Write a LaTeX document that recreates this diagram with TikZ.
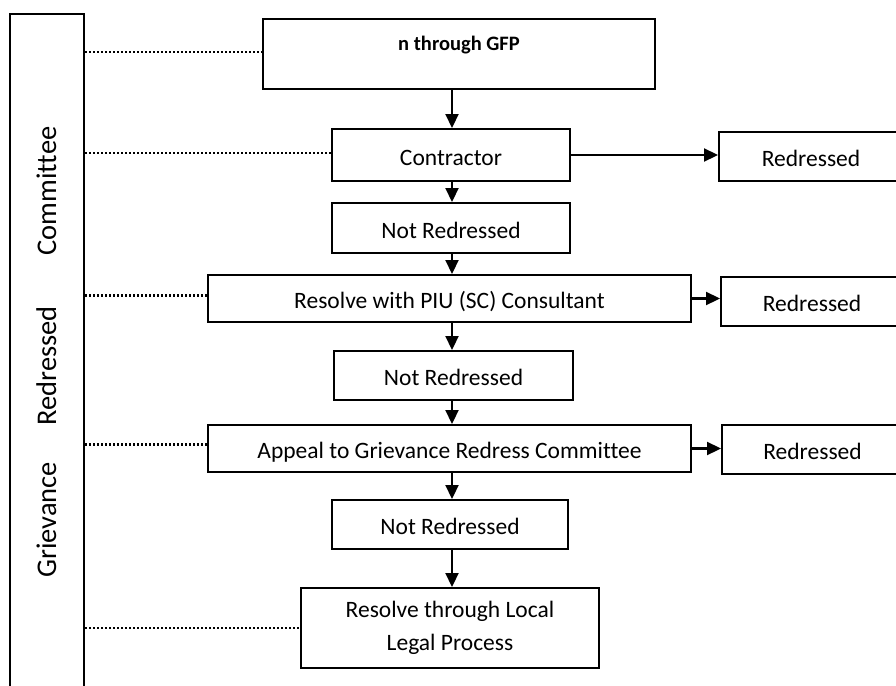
\documentclass[tikz,border=0pt]{standalone}
\usepackage{fontspec}
\setmainfont{Carlito}[Ligatures=NoCommon]
\usetikzlibrary{arrows.meta,calc}
\begin{document}
\begin{tikzpicture}[x=1pt,y=-1pt,
  box/.style={draw, line width=2pt, inner sep=0pt, align=center,
    font=\fontsize{23.5}{33}\selectfont, text height=20pt, text depth=0pt},
  arr/.style={line width=2.2pt, -{Triangle[length=14pt,width=13pt]}},
  dot/.style={line width=2.4pt, dash pattern=on 2.2pt off 1.8pt},
  panel/.style={line width=2pt},
  side/.style={rotate=90, anchor=base, inner sep=0pt, font=\fontsize{28.5}{34}\selectfont}]
\useasboundingbox (0,0) rectangle (896,685);
\clip (0,0) rectangle (896,685);

% left panel
\draw[panel] (10,686) -- (10,14) -- (84,14) -- (84,686);
\coordinate (pl) at (85,0);
\coordinate (ax) at (452,0);
\node[side] (w1) at (56,520) {Grievance};
\node[side] (w2) at (56,366) {Redressed};
\node[side] (w3) at (56,191) {Committee};

% boxes
\node[box, minimum width=392pt, minimum height=70pt, font=\fontsize{20.5}{25}\selectfont\bfseries, text height=14pt, text depth=20pt] (b1) at (459,54) {n through GFP};
\node[box, minimum width=238pt, minimum height=52pt] (b2) at (451,155) {Contractor};
\node[box, minimum width=238pt, minimum height=50pt] (b3) at (451,228) {Not Redressed};
\node[box, minimum width=483pt, minimum height=47pt] (b4) at (449.5,298.5) {Resolve with PIU (SC) Consultant};
\node[box, minimum width=239pt, minimum height=49pt] (b5) at (453.5,375.5) {Not Redressed};
\node[box, minimum width=483pt, minimum height=47pt] (b6) at (449.5,448.5) {Appeal to Grievance Redress Committee};
\node[box, minimum width=236pt, minimum height=49pt] (b7) at (450,524.5) {Not Redressed};
\node[box, minimum width=298pt, minimum height=80pt, text height=, text depth=] (b8) at (450,628) {Resolve through Local\\Legal Process};

\node[box, minimum width=184pt, minimum height=49pt] (r1) at (811,156.5) {Redressed};
\node[box, minimum width=182pt, minimum height=49pt] (r2) at (812,301.5) {Redressed};
\node[box, minimum width=181pt, minimum height=49pt] (r3) at (812.5,449.5) {Redressed};

% dotted leaders
\draw[dot] ($(pl |- b1.west)+(0,-2)$) -- ($(b1.west)+(0,-2)$);
\draw[dot] ($(pl |- b2.west)+(0,-2)$) -- ($(b2.west)+(0,-2)$);
\draw[dot] ($(pl |- b4.west)+(0,-3)$) -- ($(b4.west)+(0,-3)$);
\draw[dot] ($(pl |- b6.west)+(0,-4)$) -- ($(b6.west)+(0,-4)$);
\draw[dot] (pl |- b8.west) -- (b8.west);

% vertical arrows
\draw[arr] (b1.south -| ax) -- (b2.north -| ax);
\draw[arr] (b2.south -| ax) -- (b3.north -| ax);
\draw[arr] (b3.south -| ax) -- (b4.north -| ax);
\draw[arr] (b4.south -| ax) -- (b5.north -| ax);
\draw[arr] (b5.south -| ax) -- (b6.north -| ax);
\draw[arr] (b6.south -| ax) -- (b7.north -| ax);
\draw[arr] (b7.south -| ax) -- (b8.north -| ax);

% horizontal arrows
\draw[arr] (b2.east) -- (b2.east -| r1.west);
\draw[arr] (b4.east) -- (b4.east -| r2.west);
\draw[arr] (b6.east) -- (b6.east -| r3.west);
\end{tikzpicture}
\end{document}
